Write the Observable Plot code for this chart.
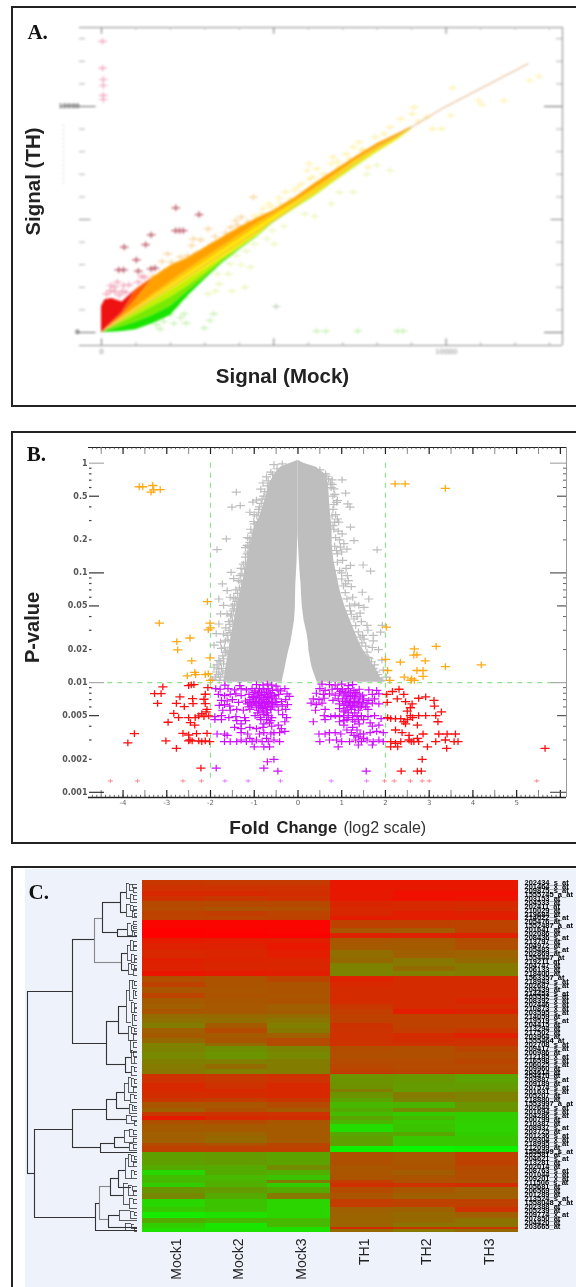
<!DOCTYPE html>
<html>
<head>
<meta charset="utf-8">
<script src="https://cdn.jsdelivr.net/npm/d3@7"></script>
<script src="https://cdn.jsdelivr.net/npm/@observablehq/plot@0.6"></script>
<style>
html,body{margin:0;padding:0;background:#fff;overflow:hidden}
#page{position:relative;width:576px;height:1287px;overflow:hidden;background:#fff}
.panel{position:absolute;box-sizing:border-box;border:2px solid #222}
#page svg{position:absolute;background:transparent}
</style>
</head>
<body>
<div id="page">
<div class="panel" style="left:11px;top:6px;width:640px;height:401px"></div>
<div class="panel" style="left:11px;top:431px;width:640px;height:413px"></div>
<div class="panel" style="left:11px;top:866px;width:640px;height:500px"></div>
<div style="position:absolute;left:25px;top:869px;width:551px;height:418px;background:#edf2fb"></div>
</div>
<script>
// ---------- Panel A: signal vs signal ----------
const fanMock   = [0,100,300,600,1000,1500,2000,2500,3000,3500,4000,4500,5000,5600,6200,6800,7400,8000,8600,9000];
const fanTop    = [1150,1450,1500,1350,1900,2450,2950,3300,3750,4200,4650,5050,5400,5950,6600,7200,7800,8350,8800,9100];
const fanRed    = [0,150,450,900,1900,2450,2950,3300,3750,4200,4650,5050,5400,5950,6600,7200,7800,8350,8800,9100];
const fanDeep   = [0,130,390,780,1450,2450,2950,3300,3750,4200,4650,5050,5400,5950,6600,7200,7800,8350,8800,9100];
const fanOrange = [0,112,336,670,1120,1680,2230,2780,3300,3800,4300,4800,5250,5800,6400,7020,7650,8210,8690,9060];
const fanGold   = [0,104,312,625,1040,1560,2080,2600,3100,3620,4120,4620,5120,5700,6300,6930,7590,8150,8650,9045];
const fanYellow = [0,92,276,552,920,1390,1850,2330,2810,3290,3780,4300,4900,5500,6100,6750,7400,8000,8550,9000];
const fanLime   = [0,75,225,450,750,1150,1550,2050,2600,3200,3720,4250,4880,5470,6060,6710,7370,7980,8540,8990];
const fanGreen  = [0,40,125,260,450,760,1150,1800,2450,3100,3670,4210,4860,5450,6040,6700,7350,7970,8530,8990];
const fanLow    = [0,0,15,40,120,400,750,1600,2350,3050,3650,4200,4860,5450,6040,6700,7350,7970,8530,8990];
const fitMock = [0,5068,7736,9870,12380];
const fitTH   = [0,5030,7906,9897,11890];
const darkPoints = [[2155,5517],[2830,5220],[2262,4510],[2150,4510],[2370,4510],[1440,4320],[1280,3890],[660,3776],[1013,3215],[500,2770],[640,2770],[1067,2714],[1440,2817],[1550,2850]];
const pinkPoints = [[30,11700],[53,11195],[53,10930],[53,10490],[53,10310],[30,12880],[267,2080],[460,2227],[373,2006],[640,2080],[800,2110],[1067,2227],[1170,2480],[1250,2450],[400,1800],[250,1850],[520,1650],[600,1820],[150,1700],[710,1780]];
const orangePoints = [[1920,3480],[1760,3142],[2027,3112],[3094,4587],[2667,4145],[2880,4100],[2614,3850],[2294,3334],[2400,3038],[2187,3038],[1500,2500],[1800,2700],[2100,2800],[2500,3400],[2750,3500],[3000,3650],[3200,3900],[4407,5989],[3895,4956],[4055,5104],[4001,4514],[3574,4071],[3414,3997],[3750,4650],[3300,4250],[3600,4400],[3950,4750],[4250,4900]];
const yellowPoints = [[4855,5694],[4641,5251],[5335,6210],[5602,6284],[5815,6579],[6135,6874],[6029,7464],[5975,7169],[6669,7464],[6455,7021],[6722,7759],[7309,8201],[7469,8422],[7096,7906],[7949,8644],[7736,7316],[8376,9086],[8696,9455],[9070,9971],[9016,9676],[9443,9529],[9603,9012],[9870,9012],[10137,9602],[10190,10827],[10937,10266],[11043,10089],[11683,10266],[12697,11328],[12431,11151],[5200,5700],[5500,5900],[4950,5550],[6300,6500],[6500,6800],[6900,7300],[7200,7700],[7600,8050],[8100,8400],[8550,8700],[9200,9350],[6050,6800],[6000,6250],[4700,5500],[4450,5150],[5150,5950],[5700,6450],[6250,7250],[6850,7550],[7550,8100],[8200,8800]];
const limePoints = [[8376,7169],[7309,6210],[6669,5694],[6188,5133],[5015,3923],[4961,4514],[4428,3923],[4321,2891],[3735,3038],[3361,2596],[3681,2596],[3414,2153],[3094,1711],[3308,1829],[3788,1829],[4161,2006],[4800,4150],[5300,4700],[5900,5250],[3900,3400],[4200,3600],[4050,3000],[6900,6200],[7700,7000],[8000,7400]];
const greenPoints = [[2454,1563],[2400,826],[3254,826],[3147,531],[2454,413],[2987,192],[2187,1195],[2000,800],[1800,500],[2100,400],[1600,350],[2300,650],[1700,150],[6242,59],[6509,59],[7437,59],[8590,59],[8750,59]];
const greyPoints = [[5068,1150]];
const mockMinor = [1000,2000,3000,4000,6000,7000,8000,9000,11000,12000,13000];
const mockMajor = [0,5000,10000];
const thMinor = [1000,2000,3000,4000,6000,7000,8000,9000,11000,12000,13000];

// ---------- Panel B: volcano ----------
const cloudP     = [1.057,1,.919,.799,.648,.457,.322,.261,.227,.184,.13,.0913,.0794,.0645,.0486,.0367,.0278,.0225,.0196,.0159,.0138,.0112,.0101];
const cloudLeft  = [-.01,-.17,-.40,-.53,-.66,-.76,-.88,-1.0,-1.03,-1.08,-1.16,-1.24,-1.28,-1.33,-1.4,-1.46,-1.52,-1.56,-1.58,-1.62,-1.65,-1.68,-1.7];
const cloudInnerL= [0,0,0,0,0,0,0,0,0,-.01,-.02,-.04,-.05,-.055,-.06,-.08,-.13,-.17,-.21,-.26,-.29,-.34,-.36];
const cloudInnerR= [0,0,0,0,0,0,0,0,0,.01,.03,.055,.07,.08,.10,.14,.21,.24,.25,.29,.32,.40,.44];
const cloudRight = [.01,.13,.42,.62,.70,.72,.75,.78,.78,.78,.82,.9,.93,.98,1.08,1.2,1.32,1.42,1.5,1.66,1.76,1.88,2.0];
const greyVolcano = [[-1.41,.544],[-1.51,.397],[-1.32,.411],[-1.03,.441],[-1.10,.357],[-.90,.357],[-1.01,.294],[-1.64,.204],[-1.85,.163],[-1.16,.178],[-1.2,.139],[-1.16,.149],[-1.53,.101],[-1.32,.0944],[-1.73,.0794],[-1.47,.0885],[-1.62,.0688],[-1.47,.0597],[-1.81,.0578],[-1.7,.0506],[-1.77,.0424],[-1.62,.0424],[-1.81,.0342],[-1.54,.0405],[-1.70,.0278],[-1.77,.0234],[-1.66,.0189],[-1.81,.0159],[-1.7,.0148],[-1.81,.0133],[-1.62,.0128],[-1.77,.0112],[-1.89,.0112],[-1.55,.0285],[-1.47,.0325],[-1.39,.0265],[-1.65,.0315],[-1.47,.022],[-1.32,.0172],[-1.36,.0145],[-1.58,.0182],[-1.6,.0245],[-1.5,.0152],[-1.75,.0135],[-1.68,.0105],[-1.4,.0118],[-.55,.97],[-.36,.985],[-.62,.83],[-.72,.75],[-.8,.66],[-.85,.58],[-.78,.5],[-.95,.46],[-.88,.4],[-1.0,.34],[-.92,.29],[-1.08,.25],[-1.15,.21],[-1.1,.19],[-1.2,.17],[-1.25,.12],[-1.3,.11],[-1.35,.085],[-1.42,.07],[-1.4,.055],[-1.5,.05],[-1.55,.06],[-1.48,.045],[-1.58,.036],
[-.48,.89],[-.58,.79],[-.68,.69],[-.7,.62],[-.76,.55],[-.82,.47],[-.84,.43],[-.9,.38],[-.94,.33],[-1.0,.28],[-1.05,.23],[-1.1,.205],[-1.12,.175],[-1.14,.155],[-1.2,.125],[-1.22,.108],[-1.28,.098],[-1.3,.083],[-1.34,.073],[-1.38,.065],[-1.42,.058],[-1.45,.052],[-1.46,.047],[-1.52,.042],[-1.5,.037],[-1.56,.034],[-1.58,.03],[-1.62,.027],[-1.66,.024],[-1.68,.021],[-1.62,.0195],[-1.72,.0175],[-1.78,.0155],[-1.7,.0165],[-1.85,.0145],[-1.72,.0122],[-1.82,.0118],[-1.86,.0125],[-1.95,.0107],[-1.8,.0105],[-1.92,.0138],[-1.75,.0205],[-1.87,.028],[-1.92,.022],
[1.01,.705],[.78,.705],[1.09,.533],[1.14,.426],[1.19,.397],[.9,.457],[.82,.583],[.93,.29],[1.2,.261],[1.01,.227],[1.28,.197],[.97,.172],[1.12,.165],[1.81,.162],[.9,.149],[1.2,.117],[1.49,.118],[1.66,.104],[1.13,.0944],[1.09,.0794],[1.47,.0666],[1.62,.0578],[1.39,.0506],[1.51,.0486],[1.58,.0332],[1.93,.0332],[1.89,.0289],[1.51,.0249],[1.7,.0209],[1.35,.04],[.63,.8],[.7,.72],[.78,.64],[.84,.52],[.88,.44],[.8,.38],[.86,.34],[.9,.31],[.8,.27],[.92,.24],[.95,.2],[1.05,.185],[1.0,.155],[1.02,.13],[1.1,.11],[1.0,.1],[1.15,.085],[1.22,.075],[1.25,.06],[1.3,.052],[1.2,.045],[1.42,.043],[1.45,.036],[1.6,.03],[1.48,.027],[1.72,.024],[1.84,.02],[1.6,.017],[1.92,.016],[1.75,.0145],[1.95,.013],[1.55,.013],[1.85,.0108],[2.02,.0112],
[.5,.87],[.66,.76],[.74,.66],[.76,.6],[.8,.5],[.82,.42],[.78,.33],[.84,.29],[.82,.25],[.86,.21],[.84,.175],[.88,.16],[.9,.125],[.95,.105],[1.0,.088],[1.04,.076],[1.08,.066],[1.12,.058],[1.18,.05],[1.22,.042],[1.28,.038],[1.32,.033],[1.38,.029],[1.42,.026],[1.46,.023],[1.55,.0215],[1.58,.019],[1.62,.0165],[1.68,.0155],[1.72,.0135],[1.78,.0125],[1.82,.0118],[1.9,.0105],[1.66,.0118],[1.72,.027]];
const orangeVolcano = [[-3.63,.61],[-3.32,.626],[-3.36,.544],[-3.15,.575],[-3.3,.572],[-3.55,.61],[2.22,.648],[2.45,.648],[3.37,.59],[-2.07,.0548],[-3.17,.0348],[-2.01,.0348],[-2.05,.0302],[-2.0,.0315],[-2.77,.0236],[-2.47,.0255],[-2.75,.0199],[-2.43,.0158],[-2.01,.0168],[-2.36,.0124],[-2.53,.0115],[-2.05,.012],[-2.0,.0105],[-2.34,.0118],[-2.12,.0118],[2.02,.032],[2.0,.0163],[2.66,.0203],[2.72,.0179],[2.65,.0178],[3.16,.0214],[2.91,.0158],[2.34,.0154],[2.72,.0129],[2.86,.0129],[2.86,.0114],[3.37,.014],[4.19,.0145],[2.1,.0105],[2.43,.0112],[2.58,.0105],[2.66,.0105],[2.05,.0129],[2.6,.0108]];
const redVolcano = [[-3.09,.00913],[-3.28,.00794],[-3.13,.00794],[-3.21,.00648],[-2.70,.0074],[-2.78,.00648],[-2.60,.00604],[-2.40,.00644],[-2.44,.00952],[-2.5,.0094],[-2.38,.0096],[-2.41,.00715],[-2.12,.00783],[-2.06,.009],[-2.15,.00705],[-2.12,.00644],[-2.08,.0057],[-2.04,.00497],[-2.27,.00497],[-2.35,.00479],[-2.50,.00479],[-2.73,.00479],[-2.84,.00525],[-2.97,.00435],[-2.36,.0041],[-2.46,.00432],[-2.2,.0052],[-2.1,.0054],[-2.15,.0049],[-3.74,.00343],[-3.89,.00282],[-3.02,.00294],[-2.63,.00345],[-2.50,.00333],[-2.32,.00343],[-2.08,.00345],[-2.78,.00252],[-2.50,.00294],[-2.42,.00294],[-2.27,.00294],[-2.12,.00294],[-2.02,.0029],[-2.47,.003],[-2.2,.0029],[-2.22,.00166],
[2.31,.0087],[2.16,.0083],[2.03,.0078],[2.42,.0078],[2.27,.0071],[2.04,.0066],[2.46,.0067],[2.61,.0064],[2.92,.0074],[2.76,.0072],[3.11,.0069],[3.12,.0061],[2.57,.0059],[2.5,.0055],[3.28,.0054],[2.76,.005],[2.92,.005],[3.15,.005],[2.12,.0047],[2.23,.0047],[2.35,.0047],[2.57,.005],[2.5,.0046],[2.46,.0042],[2.73,.0041],[3.2,.0044],[2.05,.0048],[2.62,.0048],[2.42,.0044],[2.23,.0037],[2.38,.0035],[2.54,.0033],[2.86,.0034],[2.73,.0031],[3.22,.0034],[3.41,.0034],[3.6,.0034],[2.12,.0029],[2.23,.0028],[2.35,.0029],[2.54,.003],[2.59,.0029],[2.76,.0029],[2.65,.0029],[3.15,.0029],[3.37,.003],[3.57,.0029],[3.66,.0029],[3.4,.00252],[2.96,.0026],[2.28,.0026],[2.12,.0026],[5.65,.00252],[2.84,.002],[2.36,.00156],[2.73,.00156],[2.82,.00156]];
const magentaVolcano = [[-1.67,.0095],[-1.33,.0094],[-.95,.0096],[-.8,.0095],[-.7,.0097],[-.6,.0095],[-.5,.0093],[-1.88,.0088],[-1.78,.0087],[-1.6,.0088],[-1.45,.0086],[-1.3,.0088],[-1.18,.0086],[-1.05,.0088],[-.98,.0084],[-.88,.0088],[-.78,.0086],[-.68,.0088],[-.58,.0085],[-.46,.0087],[-.4,.0084],[-.3,.0088],[-1.82,.0078],[-1.68,.0076],[-1.55,.0078],[-1.42,.0079],[-1.3,.0076],[-1.12,.0078],[-1.02,.0075],[-.92,.0079],[-.84,.0076],[-.76,.0078],[-.7,.0075],[-.62,.0079],[-.54,.0076],[-.44,.0078],[-.25,.0079],[-.2,.0075],[-1.75,.0069],[-1.62,.0068],[-1.5,.007],[-1.36,.0066],[-1.2,.0068],[-1.1,.007],[-1.02,.0067],[-.95,.0071],[-.88,.0068],[-.8,.007],[-.72,.0067],[-.66,.0071],[-.58,.0068],[-.5,.0071],[-.38,.0067],[-.28,.007],[-1.8,.0062],[-1.68,.0063],[-1.56,.0061],[-1.15,.0064],[-1.06,.0062],[-.98,.0064],[-.9,.0062],[-.82,.0064],[-.74,.0061],[-.66,.0064],[-.58,.0061],[-.48,.0063],[-.36,.0061],[-.24,.0063],[-1.72,.0056],[-1.55,.0056],[-1.4,.0057],[-1.25,.0056],[-1.1,.0057],[-.9,.0056],[-.82,.0058],[-.72,.0056],[-.62,.0057],[-.45,.0056],[-.28,.0057],[-1.9,.0049],[-1.75,.005],[-1.58,.0048],[-1.42,.0049],[-1.22,.0048],[-.98,.005],[-.86,.0048],[-.78,.0051],[-.68,.005],[-.6,.0048],[-.35,.0051],[-.26,.0048],[-1.9,.0046],[-1.75,.0046],[-1.4,.0045],[-1.2,.0045],[-.85,.0046],[-.72,.0046],[-.62,.0045],[-.3,.0044],[-1.45,.0039],[-1.3,.0038],[-1.1,.0039],[-.95,.0038],[-.8,.0039],[-.6,.004],[-.45,.0041],[-.38,.0038],[-1.85,.0034],[-1.68,.0034],[-1.3,.0035],[-1.15,.0034],[-.88,.0034],[-.78,.0035],[-.62,.0034],[-.42,.0035],[-.3,.0036],[-1.68,.0029],[-1.55,.0029],[-1.4,.0029],[-1.3,.003],[-1.18,.0029],[-1.05,.0029],[-.95,.003],[-.82,.0029],[-.68,.0029],[-.55,.003],[-.42,.0029],[-1.0,.0026],[-.78,.0026],[-.65,.0026],[-.7,.0019],[-.55,.002],[-.78,.00166],[-.46,.00156],[-1.87,.00166],
[-1.0,.0081],[-.9,.0082],[-.83,.0081],[-.72,.0082],[-.64,.0081],[-1.05,.0073],[-.96,.0074],[-.88,.0073],[-.78,.0073],[-.68,.0073],[-.6,.0074],[-1.1,.0066],[-.98,.0066],[-.9,.0065],[-.84,.0066],[-.76,.0065],[-.68,.0066],[-.6,.0065],[-.52,.0066],[-1.12,.006],[-.95,.0059],[-.86,.006],[-.78,.0059],[-.7,.006],[-.62,.0059],[-.8,.0054],[-.7,.0053],[-.92,.0053],[-.65,.0043],[-.78,.0042],[-1.3,.0042],[-.55,.0035],[-.72,.0031],[-1.62,.0033],[-1.1,.0031],
[.55,.0097],[.72,.0096],[.85,.0095],[1.0,.0097],[1.15,.0094],[1.25,.0096],[.5,.0088],[.62,.0085],[.78,.0087],[.9,.0088],[1.02,.0086],[1.15,.0088],[1.28,.0085],[1.4,.0087],[1.62,.0086],[1.8,.0085],[.42,.008],[.58,.0078],[.72,.0079],[.85,.0077],[.95,.008],[1.05,.0077],[1.15,.0079],[1.25,.0076],[1.35,.0079],[1.48,.0077],[1.7,.0078],[1.85,.0079],[.35,.0071],[.48,.007],[.6,.0072],[.8,.0069],[.92,.0071],[1.02,.0068],[1.12,.0071],[1.2,.0068],[1.3,.0071],[1.4,.0068],[1.5,.0071],[1.62,.0069],[1.75,.0071],[.3,.0065],[.42,.0063],[.55,.0065],[.95,.0064],[1.05,.0062],[1.15,.0064],[1.25,.0062],[1.35,.0064],[1.45,.0061],[1.58,.0064],[1.7,.0065],[1.85,.0064],[.4,.0056],[.62,.0057],[.95,.0058],[1.08,.0056],[1.22,.0057],[1.38,.0056],[1.6,.0057],[.6,.005],[.75,.0049],[.85,.005],[.95,.0049],[1.05,.005],[1.15,.0048],[1.25,.005],[1.35,.0049],[1.45,.005],[1.6,.0049],[1.75,.005],[1.9,.0047],[.35,.0044],[.62,.0046],[.95,.0044],[1.05,.0045],[1.3,.0044],[1.5,.0046],[1.65,.0043],[1.05,.0041],[1.25,.0039],[1.4,.0042],[1.7,.004],[1.85,.0041],[.48,.0034],[.62,.0034],[.72,.0035],[.85,.0035],[.98,.0034],[1.12,.0037],[1.22,.0035],[1.35,.0037],[1.5,.0034],[1.65,.0035],[1.8,.0036],[1.95,.0035],[.5,.0029],[.72,.003],[.88,.003],[1.0,.0029],[1.18,.0029],[1.32,.003],[1.45,.0029],[1.58,.003],[1.72,.0029],[1.85,.003],[1.95,.0029],[.92,.0026],[1.38,.0027],[1.7,.0027],[1.56,.00156],
[.98,.0083],[1.08,.0082],[1.2,.0082],[1.32,.0081],[1.1,.0074],[1.2,.0075],[1.3,.0074],[1.42,.0074],[1.08,.0067],[1.18,.0066],[1.28,.0067],[1.38,.0066],[1.48,.0066],[1.12,.0059],[1.2,.006],[1.3,.006],[1.42,.0059],[1.55,.006],[1.05,.0054],[1.15,.0053],[1.3,.0053],[1.25,.0046],[1.12,.0046],[1.38,.0046],[1.28,.0033],[1.38,.0032],[1.5,.0031],[1.42,.0034]];
const clippedRed = [[-4.29,.00127],[-3.67,.00127],[-2.63,.00127],[-2.21,.00127],[1.98,.00127],[2.2,.00127],[2.57,.00127],[2.84,.00127],[3.0,.00127],[5.46,.00127]];
const clippedMagenta = [[-1.67,.00127],[-1.14,.00127],[-.4,.00127],[.76,.00127],[1.57,.00127]];
const pMajorDark = [.1,.001];
const pMajorGray = [1,.01];
const pMiddle = [.5,.05,.005];
const pMinor = [.9,.8,.7,.6,.4,.3,.2,.09,.08,.07,.06,.04,.03,.02,.009,.008,.007,.006,.004,.003,.002];
const pLabels = [1,.5,.2,.1,.05,.02,.01,.005,.002,.001];
const foldLabels = [-4,-3,-2,-1,0,1,2,3,4,5];
const foldWhole = [-4,-3,-2,-1,0,1,2,3,4,5,6];
const foldHalf = [-4.5,-3.5,-2.5,-1.5,-.5,.5,1.5,2.5,3.5,4.5,5.5];

// ---------- Panel C: heatmap ----------
const samples = ["Mock1","Mock2","Mock3","TH1","TH2","TH3"];
const geneEdges = [0,5,11,16,21,27,31,36,40,48,53,58,63,70,78,83,86,91,96,102,107,113,118,124,129,134,138,143,148,153,158,163,166,172,179,184,189,193,194,203,209,212,218,222,228,232,236,240,244,252,256,263,266,272,285,290,295,300,303,307,313,319,327,332,338,343,347,349,352];
const mock1 = [200,205,215,205,182,180,190,188,250,255,255,228,222,215,224,222,222,235,176,190,170,188,165,160,170,148,142,130,160,165,150,125,125,118,128,132,136,136,205,215,215,210,200,170,160,200,230,175,165,160,160,180,190,95,85,40,65,70,50,105,120,40,55,20,85,50,42,30];
const mock2 = [198,205,215,200,182,172,195,188,250,252,255,226,222,218,220,216,218,228,172,172,170,172,168,166,166,150,146,165,180,165,170,150,112,106,128,148,128,128,200,205,215,212,195,170,175,205,215,180,165,155,150,175,190,100,85,85,70,78,80,100,85,60,62,30,72,25,28,30];
const mock3 = [198,205,210,205,182,176,188,190,250,250,255,225,232,226,218,216,218,225,186,172,172,170,172,160,162,148,138,128,135,160,180,178,124,118,130,130,130,130,205,215,215,215,200,180,165,205,210,170,165,165,165,185,190,92,115,80,60,130,50,85,135,42,42,42,70,70,30,30];
const th1 = [232,232,230,230,216,214,216,228,190,170,222,168,165,145,150,128,125,124,222,215,212,212,212,200,195,190,190,206,204,205,205,205,178,176,180,184,190,208,108,110,130,108,92,72,85,68,90,75,35,88,95,95,15,175,170,170,172,195,208,180,170,195,160,155,155,155,210,150];
const th2 = [232,230,240,238,214,214,226,226,190,165,222,166,164,160,136,136,148,128,212,212,212,212,212,212,226,190,190,190,195,212,210,205,176,176,180,180,186,200,104,100,100,132,125,75,115,52,72,55,60,88,55,55,10,170,172,162,172,175,205,170,160,190,158,150,150,140,205,135];
const th3 = [232,232,240,236,214,210,224,226,188,190,222,178,176,156,150,134,134,130,212,212,212,212,218,210,220,190,190,190,200,222,205,205,186,178,186,180,186,205,92,100,108,125,125,105,110,50,50,48,45,50,55,55,15,190,182,178,178,172,210,160,160,190,205,160,140,140,200,150];
const geneLabels = ["202434_s_at","201464_x_at","209875_s_at","1555745_a_at","203153_at","204533_at","202411_at","210029_at","219684_at","214022_s_at","205476_at","1552487_a_at","201641_at","202086_at","208436_s_at","213797_at","204972_at","205483_s_at","202869_at","1554447_at","219211_at","204747_at","206133_at","218400_at","1563357_at","218943_s_at","202687_s_at","204439_at","214453_s_at","205552_s_at","208392_x_at","202446_s_at","210873_x_at","203595_s_at","214059_at","219519_s_at","204415_at","213294_at","217502_at","203964_at","1555464_at","202708_s_at","209417_s_at","200986_at","212185_x_at","216598_s_at","206025_s_at","209960_at","204614_at","204470_at","203887_s_at","209189_at","207574_s_at","201631_s_at","205207_at","218880_at","1553997_a_at","202644_s_at","201694_s_at","204286_s_at","200799_at","210387_at","208937_s_at","203725_at","201236_s_at","209304_x_at","218995_s_at","212099_at","1556499_s_at","202581_at","204621_s_at","213281_at","202014_at","208763_s_at","201044_x_at","209201_x_at","211506_s_at","205681_at","206569_at","201289_at","213524_s_at","1558048_x_at","202388_at","205239_at","209774_x_at","207850_at","204420_at","203665_at"];
// merge height, first and second row span, heights of the two children
const darkBrackets = [[110,111,293,65,103],[65,59,163,43,31],[31,141,184,19,12],[103,249,337,65,42],[65,229,267,31,37],[42,323,350,38,0],[35,22,52,17,20],[17,12,32,11,11],[20,49,56,10,0],[16,73,90,10,9],[19,126,153,11,9],[12,177,192,6,6],[21,212,228,13,8],[31,219,239,21,11],[37,263,272,23,0],[23,257,267,13,8],[29,335,347,18,0],[19,290,307,12,6],[27,298,315,19,14]];
const lightBrackets = [[43,38,82,35,16],[38,306,339,27,29]];
const leafBrackets = [[11,3,18,8,7],[8,4,10,5,4],[5,4,7,0,0],[4,8,12,0,0],[7,14,22,4,0],[4,15,19,0,0],[11,24,36,7,5],[7,25,30,4,0],[4,26,29,0,0],[5,31,37,3,0],[3,33,36,0,0],[10,43,55,6,5],[6,45,50,4,0],[4,46,48,0,0],[5,51,56,3,0],[3,52,55,0,0],[4,41,44,0,0],[10,65,80,7,6],[7,60,70,4,4],[4,61,65,0,0],[4,66,70,0,0],[6,74,82,3,3],[3,75,78,0,0],[3,79,82,0,0],[9,83,94,6,4],[6,84,89,3,0],[3,85,88,0,0],[4,90,95,0,0],[11,110,142,8,6],[8,100,120,5,4],[5,100,108,3,0],[3,101,105,0,0],[4,110,118,2,0],[2,111,115,0,0],[6,122,132,3,3],[3,123,127,0,0],[3,128,132,0,0],[5,134,145,3,0],[3,135,140,0,0],[9,146,160,6,4],[6,147,153,3,0],[3,148,151,0,0],[4,154,160,0,0],[6,170,183,4,3],[4,171,176,0,0],[3,177,183,0,0],[6,186,195,3,0],[3,187,191,0,0],[7,160,172,4,0],[4,162,167,0,0],[13,203,220,9,7],[9,197,212,6,4],[6,198,206,3,0],[3,199,203,0,0],[4,207,212,0,0],[7,214,222,3,0],[3,215,218,0,0],[8,224,233,5,0],[5,225,230,3,0],[3,226,228,0,0],[11,235,243,6,3],[6,236,240,0,0],[3,241,245,0,0],[13,250,262,8,4],[8,249,256,4,0],[4,250,254,0,0],[4,258,262,0,0],[8,263,270,4,0],[4,264,268,0,0],[12,278,298,9,6],[9,274,286,6,4],[6,275,281,3,0],[3,276,279,0,0],[4,282,286,0,0],[6,290,298,3,0],[3,291,294,0,0],[14,303,324,9,8],[9,305,315,5,4],[5,306,310,0,0],[4,311,315,0,0],[8,318,328,4,0],[4,319,323,0,0],[18,330,340,7,0],[7,331,338,3,0],[3,332,335,0,0],[12,343,350,6,3],[6,344,348,3,0],[3,348,351,0,0]];

// ---------- helpers ----------
const page = document.getElementById("page");
const place = (svg,left,top,blur) => {svg.style.left=left+"px";svg.style.top=top+"px";if(blur)svg.style.filter=`blur(${blur}px)`;page.appendChild(svg);};
const widePlus = {draw(ctx,size){const r=Math.sqrt(size/Math.PI);ctx.moveTo(-1.35*r,0);ctx.lineTo(1.35*r,0);ctx.moveTo(0,-r);ctx.lineTo(0,r);}};
const crosses = (pts,stroke,r=3,w=1.2,opacity=1) => Plot.dot(pts,{x:d=>d[0],y:d=>d[1],symbol:widePlus,r,stroke,fill:"none",strokeWidth:w,strokeOpacity:opacity});
const sans = "Liberation Sans", serif = "Liberation Serif";

// ---------- Panel A ----------
const fanRows = fanMock.map((x,i)=>({x,top:fanTop[i],red:fanRed[i],deep:fanDeep[i],orange:fanOrange[i],gold:fanGold[i],yellow:fanYellow[i],lime:fanLime[i],green:fanGreen[i],low:fanLow[i]}));
const band = (y1,y2,fill)=>Plot.areaY(fanRows,{x:"x",y1,y2,fill});
const xL=-638,xR=13377,yB=-575,yT=13496;
const vx=(vals,y1,y2,c="#8a8a8a",w=1)=>Plot.ruleX(vals,{y1,y2,stroke:c,strokeWidth:w});
const hy=(vals,x1,x2,c="#8a8a8a",w=1)=>Plot.ruleY(vals,{x1,x2,stroke:c,strokeWidth:w});
const frameA = {width:576,height:420,marginLeft:79,marginRight:14,marginTop:27,marginBottom:75,x:{domain:[xL,xR],axis:null},y:{domain:[yB,yT],axis:null}};
place(Plot.plot({...frameA,
  marks:[
    hy([yT],xL,xR),hy([yB],xL,xR),vx([xR],yB,yT),
    vx(mockMinor,yT,yT-120,"#aaa"),vx(mockMajor,yT,yT-300,"#777"),
    vx(mockMinor,yB,yB+120,"#aaa"),vx(mockMajor,yB,yB+300,"#777"),
    hy(thMinor,xL,xL+170,"#aaa"),hy(thMinor,xR,xR-170,"#aaa"),
    hy([0,10000],xL,xL+480,"#666"),hy([5000],xL,xL+330,"#888"),
    hy([0,10000],xR,xR-520,"#666"),hy([5000],xR,xR-330,"#888"),
    crosses(yellowPoints,"#fff0a0",3.2,1.1),crosses(limePoints,"#e8f6b0",3.2,1.1),crosses(orangePoints,"#f8d090",3.2,1.1),
    crosses(greenPoints,"#c0f0aa",3.2,1.1),crosses(greyPoints,"#b8c8b0",3,1.1),
    crosses(pinkPoints,"#f0a0b8",3.2,1.2),crosses(darkPoints,"#b85060",3.2,1.3),
    band("top","red","#ee1212"),band("red","deep","#ff5a00"),band("deep","orange","#ffa000"),band("orange","gold","#ffc400"),
    band("gold","yellow","#ffec00"),band("yellow","lime","#c4f000"),band("lime","green","#78ea00"),band("green","low","#18e400"),
    Plot.line(fitMock.map((x,i)=>({x,y:fitTH[i]})),{x:"x",y:"y",stroke:"#dfa878",strokeWidth:1}),
    Plot.axisX(mockMajor.filter(d=>d!==5000),{anchor:"bottom",tickSize:0,tickPadding:4,fontSize:7,fontFamily:"DejaVu Sans",fill:"#888",tickFormat:d=>String(d),label:null}),
    Plot.axisY([0,10000],{anchor:"left",tickSize:0,tickPadding:0,fontSize:6,fontFamily:"DejaVu Sans",fontWeight:"bold",fill:"#444",tickFormat:d=>String(d),label:null}),
    Plot.text(["- - - - - - - - - - - - - -"],{x:-1125,y:7900,text:d=>d,rotate:-90,fontSize:6.5,fontFamily:"DejaVu Sans",fill:"#aaa"})
  ]
}),0,0,0.9);
place(Plot.plot({...frameA,
  marks:[
    Plot.text(["Signal (TH)"],{x:-1973,y:6681,text:d=>d,rotate:-90,fontSize:20.5,fontWeight:"bold",fontFamily:sans,fill:"#222"}),
    Plot.text(["Signal (Mock)"],{x:5252,y:-1947,text:d=>d,fontSize:20.5,fontWeight:"bold",fontFamily:sans,fill:"#222"}),
    Plot.text(["A."],{x:-2150,y:13290,text:d=>d,textAnchor:"start",fontSize:21,fontWeight:"bold",fontFamily:serif,fill:"#111"})
  ]
}),0,0,0.35);

// ---------- Panel B ----------
const fL=-4.79,fR=6.14,pB=.000897,pT=1.39;
const cloudRows = cloudP.map((p,i)=>({p,l:cloudLeft[i],il:cloudInnerL[i],ir:cloudInnerR[i],r:cloudRight[i]}));
const pUp=(p,px)=>p*Math.pow(10,px/109.7);
const foldMinor = d3.range(-47,61).map(d=>d/10);
const fu=px=>px/43.7;
const rx=(vals,y1,y2,c,w=1)=>Plot.ruleX(vals,{y1,y2,stroke:c,strokeWidth:w});
const ry=(vals,x1,x2,c,w=1)=>Plot.ruleY(vals,{x1,x2,stroke:c,strokeWidth:w});
place(Plot.plot({
  width:576,height:420,marginLeft:88,marginRight:10,marginTop:17,marginBottom:53,
  x:{domain:[fL,fR],axis:null},y:{type:"log",domain:[pB,pT],axis:null},
  marks:[
    ry([pT],fL,fR,"#222",1.2),ry([pB],fL,fR,"#222",1.4),rx([fR],pB,pT,"#999"),
    rx(foldMinor,pT,pUp(pT,-2.2),"#444",.8),rx(foldMinor,pB,pUp(pB,2.2),"#444",.8),
    rx(foldWhole,pT,pUp(pT,-7),"#222",1.2),rx(foldHalf,pT,pUp(pT,-7),"#888",1),
    rx(foldWhole,pB,pUp(pB,7),"#222",1.2),rx(foldHalf,pB,pUp(pB,7),"#888",1),
    ry(pMajorDark,fL+fu(1),fL+fu(16),"#333",1.2),ry(pMajorGray,fL+fu(1),fL+fu(16),"#aaa",1.2),ry(pMiddle,fL+fu(1),fL+fu(11),"#333",1.2),ry(pMinor,fL+fu(1),fL+fu(3.5),"#444",1.2),
    ry(pMajorDark,fR,fR-fu(16),"#555",1.2),ry(pMajorGray,fR,fR-fu(16),"#aaa",1.2),ry(pMiddle,fR,fR-fu(9),"#555",1.2),ry(pMinor,fR,fR-fu(3),"#666",1),
    Plot.areaX(cloudRows,{y:"p",x1:"l",x2:"il",fill:"#bebebe"}),
    Plot.areaX(cloudRows,{y:"p",x1:"ir",x2:"r",fill:"#bebebe"}),
    crosses(greyVolcano,"#bebebe",3.4,1.2),
    Plot.ruleX([-2,2],{y1:1,y2:.00125,stroke:"#8fe08f",strokeWidth:1.2,strokeDasharray:"5,5"}),
    Plot.ruleY([.01],{x1:-4.35,x2:5.8,stroke:"#8fe08f",strokeWidth:1.2,strokeDasharray:"5,5"}),
    crosses(orangeVolcano,"#ffa914",3.4,1.3),
    crosses(magentaVolcano,"#cc10ff",3.4,1.2),
    crosses(redVolcano,"#ff1010",3.4,1.3),
    crosses(clippedRed,"#ff7a80",1.9,1,.85),crosses(clippedMagenta,"#dd70ff",1.9,1,.85),
    Plot.axisX(foldLabels,{anchor:"bottom",tickSize:0,tickPadding:3,fontSize:7,fontFamily:"DejaVu Sans",fill:"#666",tickFormat:d=>String(d),label:null}),
    Plot.text(pLabels,{x:fL,y:d=>d,text:d=>String(d),textAnchor:"end",dx:-1,fontSize:8,fontFamily:"DejaVu Sans",fontWeight:"bold",fill:"#555"}),
    Plot.text(["P-value"],{x:-6.07,y:.0318,text:d=>d,rotate:-90,fontSize:20,fontWeight:"bold",fontFamily:sans,fill:"#222"}),
    Plot.text(["Fold"],{x:-1.57,y:.000473,text:d=>d,textAnchor:"start",fontSize:19,fontWeight:"bold",fontFamily:sans,fill:"#222"}),
    Plot.text(["Change"],{x:-.49,y:.000473,text:d=>d,textAnchor:"start",fontSize:16.5,fontWeight:"bold",fontFamily:sans,fill:"#222"}),
    Plot.text(["(log2 scale)"],{x:1.04,y:.000473,text:d=>d,textAnchor:"start",fontSize:16,fontFamily:sans,fill:"#333"}),
    Plot.text(["B."],{x:-6.2,y:1.2,text:d=>d,textAnchor:"start",fontSize:21,fontWeight:"bold",fontFamily:serif,fill:"#111"})
  ]
}),0,430,0.45);

// ---------- Panel C ----------
const colValues=[mock1,mock2,mock3,th1,th2,th3];
const cells=samples.flatMap((sample,c)=>colValues[c].map((value,i)=>({sample,value,top:geneEdges[i],bottom:geneEdges[i+1]})));
const frameC={width:576,height:420,marginLeft:142,marginRight:58,marginTop:13,marginBottom:55,
  x:{domain:samples,padding:0,round:false,axis:null},
  y:{domain:[0,352],reverse:true,axis:null}};
place(Plot.plot({...frameC,
  color:{type:"linear",domain:[0,255],range:["#00ff00","#ff0000"],interpolate:"rgb"},
  marks:[
    Plot.barY(cells,{x:"sample",y1:"top",y2:"bottom",fill:"value",shapeRendering:"crispEdges"}),
    Plot.axisX({anchor:"bottom",tickSize:0,tickPadding:6,tickRotate:-90,dx:2.5,fontSize:14,fontFamily:sans,fill:"#222",label:null})
  ]
}),0,867,0.45);
place(Plot.plot({...frameC,
  marks:[
    Plot.text(geneLabels,{frameAnchor:"right",y:(d,i)=>i*3.95+2,dx:6,text:d=>d,textAnchor:"start",fontSize:7.5,fontFamily:sans,fontWeight:"bold",fill:"#000"})
  ]
}),0,867,0.15);

const brk=(rows,stroke,w)=>[
  Plot.ruleX(rows,{x:d=>d[0],y1:d=>d[1],y2:d=>d[2],stroke,strokeWidth:w}),
  Plot.ruleY(rows,{y:d=>d[1],x1:d=>d[0],x2:d=>d[3],stroke,strokeWidth:w}),
  Plot.ruleY(rows,{y:d=>d[2],x1:d=>d[0],x2:d=>d[4],stroke,strokeWidth:w})
];
place(Plot.plot({
  width:142,height:420,margin:0,
  x:{domain:[137,-5],range:[0,142],axis:null},y:{domain:[-13,407],range:[0,420],axis:null},
  marks:[
    brk(leafBrackets,"#333",.8),
    brk(lightBrackets,"#888",1.1),
    brk(darkBrackets,"#333",1.1),
    Plot.text(["C."],{x:109,y:12,text:d=>d,textAnchor:"start",fontSize:21,fontWeight:"bold",fontFamily:serif,fill:"#111"})
  ]
}),0,867,0.4);
</script>
</body>
</html>
